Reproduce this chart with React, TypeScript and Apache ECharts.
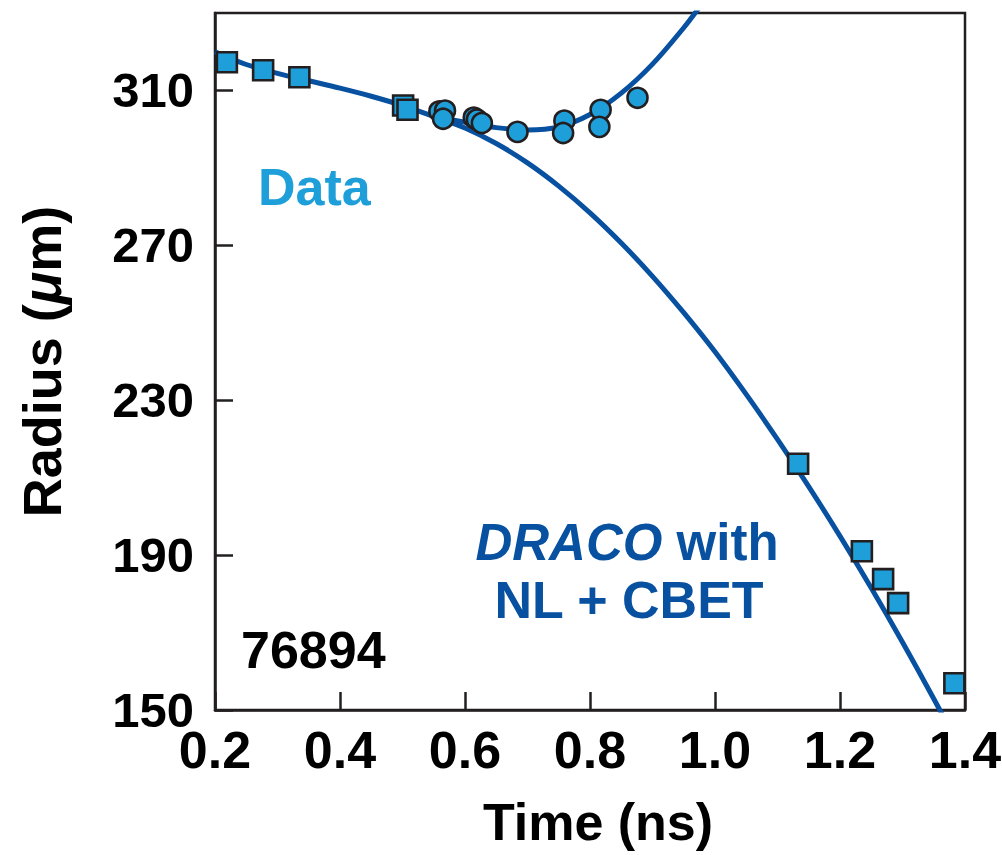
import React, { useEffect, useRef } from "react";
import * as echarts from "echarts";

// Tick values
const xTicks = [0.2, 0.4, 0.6, 0.8, 1.0, 1.2, 1.4];
const yTicks = [150, 190, 230, 270, 310];

// Data: squares
const squareTime = [0.219, 0.277, 0.335, 0.501, 0.508, 1.133, 1.235, 1.269, 1.293, 1.383];
const squareRadius = [317.3, 315.2, 313.4, 306.1, 305.0, 213.6, 191.0, 183.8, 177.6, 156.9];

// Data: circles
const circleTime = [0.559, 0.568, 0.565, 0.614, 0.619, 0.627, 0.684, 0.759, 0.757, 0.817, 0.815, 0.876];
const circleRadius = [304.6, 304.8, 302.7, 303.0, 302.5, 301.6, 299.3, 302.2, 299.0, 305.0, 300.6, 308.1];

// DRACO with NL + CBET simulation (main curve)
const dracoTime = [0.2, 0.25, 0.3, 0.35, 0.4, 0.45, 0.5, 0.55, 0.6, 0.65, 0.7, 0.75, 0.8, 0.85, 0.9, 0.95, 1.0, 1.05, 1.1, 1.15, 1.2, 1.25, 1.3, 1.35, 1.4];
const dracoRadius = [320.0, 316.7, 314.4, 312.5, 310.6, 308.5, 306.1, 303.3, 300.3, 296.3, 291.3, 285.3, 278.4, 270.6, 262.0, 252.6, 242.5, 231.5, 219.9, 207.7, 194.9, 181.5, 167.5, 152.9, 137.7];

// Branch curve (upper)
const branchTime = [0.55, 0.6, 0.65, 0.7, 0.75, 0.8, 0.85, 0.9, 0.95, 0.975];
const branchRadius = [303.3, 301.8, 300.4, 299.8, 300.6, 303.8, 309.3, 316.8, 326.2, 331.5];

const FONT = '"Liberation Sans", Arial, Helvetica, sans-serif';
const LINE = "#0851a0";
const MARK = "#1f9fda";
const INK = "#231f20";

const zip = (a: number[], b: number[]) => a.map((v, i) => [v, b[i]]);

export default function App() {
  const ref = useRef<HTMLDivElement>(null);
  useEffect(() => {
    document.body.style.margin = "0";
    const chart = echarts.init(ref.current!, null, { renderer: "svg" });
    const labelStyle = { color: "#000", fontFamily: FONT, fontWeight: "bold" as const };
    chart.setOption({
      animation: false,
      backgroundColor: "#fff",
      grid: {
        left: 215,
        right: 37,
        top: 13,
        bottom: 145,
        show: true,
        borderColor: INK,
        borderWidth: 2.5,
        containLabel: false,
        outerBoundsMode: "none",
      },
      xAxis: {
        type: "value",
        min: 0.2,
        max: 1.4,
        axisLine: { show: true, lineStyle: { color: INK, width: 2.5 } },
        axisTick: { show: true, inside: true, length: 18, customValues: xTicks, lineStyle: { color: INK, width: 2.5 } },
        axisLabel: { ...labelStyle, customValues: xTicks, fontSize: 52, margin: 14, formatter: (v: number) => v.toFixed(1) },
        splitLine: { show: false },
        name: "Time (ns)",
        nameLocation: "middle",
        nameGap: 86,
        nameTextStyle: { ...labelStyle, fontSize: 52, padding: [0, 0, 0, 16] },
      },
      yAxis: {
        type: "value",
        min: 150,
        max: 330,
        axisLine: { show: true, lineStyle: { color: INK, width: 2.5 } },
        axisTick: { show: true, inside: true, length: 18, customValues: yTicks, lineStyle: { color: INK, width: 2.5 } },
        axisLabel: { ...labelStyle, customValues: yTicks, fontSize: 49, margin: 21 },
        splitLine: { show: false },
        name: "Radius ({mu|μ}m)",
        nameLocation: "middle",
        nameGap: 146,
        nameRotate: 90,
        nameTextStyle: {
          ...labelStyle,
          fontSize: 54,
          rich: {
            mu: { ...labelStyle, fontSize: 54, fontStyle: "italic" },
          },
        },
      },
      series: [
        {
          type: "line",
          data: zip(dracoTime, dracoRadius),
          smooth: 0.35,
          showSymbol: false,
          lineStyle: { color: LINE, width: 5 },
          z: 2,
          silent: true,
        },
        {
          type: "line",
          data: zip(branchTime, branchRadius),
          smooth: 0.35,
          showSymbol: false,
          lineStyle: { color: LINE, width: 5 },
          z: 2,
          silent: true,
        },
        {
          type: "scatter",
          data: zip(circleTime, circleRadius),
          symbol: "circle",
          symbolSize: 20,
          itemStyle: { color: MARK, borderColor: INK, borderWidth: 2.6, opacity: 1 },
          z: 3,
        },
        {
          type: "scatter",
          data: zip(squareTime, squareRadius),
          symbol: "rect",
          symbolSize: 20,
          itemStyle: { color: MARK, borderColor: INK, borderWidth: 2.6, opacity: 1 },
          z: 3,
        },
      ],
      graphic: [
        {
          type: "text",
          x: 258,
          y: 187,
          style: {
            text: "Data",
            fill: MARK,
            fontFamily: FONT,
            fontWeight: "bold",
            fontSize: 52,
            align: "left",
            verticalAlign: "middle",
          },
        },
        {
          type: "text",
          x: 627,
          y: 542,
          style: {
            text: "{i|DRACO} with",
            fill: LINE,
            fontFamily: FONT,
            fontWeight: "bold",
            fontSize: 51,
            align: "center",
            verticalAlign: "middle",
            rich: {
              i: { fill: LINE, fontFamily: FONT, fontWeight: "bold", fontSize: 51, fontStyle: "italic" },
            },
          },
        },
        {
          type: "text",
          x: 629,
          y: 600,
          style: {
            text: "NL + CBET",
            fill: LINE,
            fontFamily: FONT,
            fontWeight: "bold",
            fontSize: 52,
            align: "center",
            verticalAlign: "middle",
          },
        },
        {
          type: "text",
          x: 241,
          y: 650,
          style: {
            text: "76894",
            fill: "#000",
            fontFamily: FONT,
            fontWeight: "bold",
            fontSize: 52,
            align: "left",
            verticalAlign: "middle",
          },
        },
      ],
    });
    return () => chart.dispose();
  }, []);
  return <div ref={ref} style={{ width: 1002, height: 855 }} />;
}
